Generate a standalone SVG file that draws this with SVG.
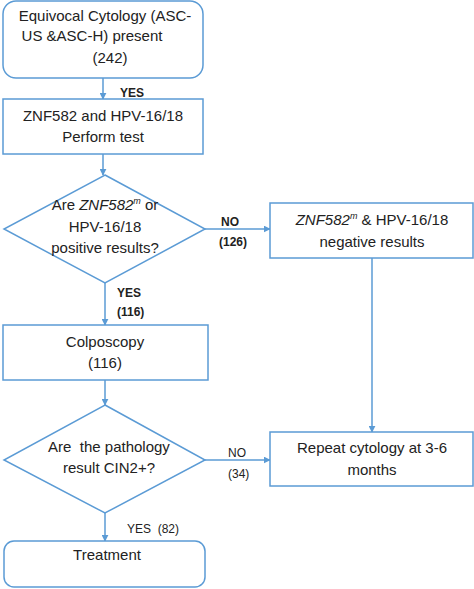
<svg xmlns="http://www.w3.org/2000/svg" width="474" height="589" viewBox="0 0 474 589">
<defs>
<marker id="ah" viewBox="0 0 10 10" refX="9" refY="5" markerWidth="7" markerHeight="7" markerUnits="userSpaceOnUse" orient="auto">
<path d="M0,0 L10,5 L0,10 z" fill="#5B9BD5"/>
</marker>
<style>
.box{fill:#fff;stroke:#5B9BD5;stroke-width:1.5}
.t{font-family:"Liberation Sans",Arial,sans-serif;font-size:15px;fill:#222;text-anchor:middle}
.lb{font-family:"Liberation Sans",Arial,sans-serif;font-size:12px;fill:#222;font-weight:bold}
.ln{font-family:"Liberation Sans",Arial,sans-serif;font-size:12px;fill:#222}
.c{fill:none;stroke:#5B9BD5;stroke-width:1.5;marker-end:url(#ah)}
</style>
</defs>
<rect width="474" height="589" fill="#fff"/>
<g id="connectors">
<line class="c" x1="103" y1="78" x2="103" y2="99"/>
<line class="c" x1="103" y1="154" x2="103" y2="175"/>
<line class="c" x1="205" y1="229" x2="270" y2="229"/>
<line class="c" x1="105" y1="283" x2="105" y2="325"/>
<line class="c" x1="372" y1="258" x2="372" y2="432"/>
<line class="c" x1="105" y1="380" x2="105" y2="405"/>
<line class="c" x1="205" y1="460" x2="270" y2="460"/>
<line class="c" x1="105" y1="513" x2="105" y2="541"/>
<text class="lb" x="120" y="97">YES</text>
<text class="lb" x="221" y="226">NO</text>
<text class="lb" x="219" y="246">(126)</text>
<text class="lb" x="117" y="297">YES</text>
<text class="lb" x="117" y="316">(116)</text>
<text class="ln" x="228" y="457">NO</text>
<text class="ln" x="228" y="478">(34)</text>
<text class="ln" x="127" y="533" xml:space="preserve">YES  (82)</text>
</g>
<g id="n1">
<rect class="box" x="3" y="1" width="200" height="77" rx="13"/>
<text class="t" x="105" y="21">Equivocal Cytology (ASC-</text>
<text class="t" x="92" y="41">US &amp;ASC-H) present</text>
<text class="t" x="110" y="63">(242)</text>
</g>
<g id="n2">
<rect class="box" x="3" y="99" width="200" height="55"/>
<text class="t" x="103" y="121">ZNF582 and HPV-16/18</text>
<text class="t" x="103" y="142">Perform test</text>
</g>
<g id="d1">
<polygon class="box" points="105,175 205,229 105,283 4,229"/>
<text class="t" x="105" y="210">Are <tspan font-style="italic">ZNF582</tspan><tspan font-style="italic" font-size="9" dy="-6">m</tspan><tspan dy="6"> or</tspan></text>
<text class="t" x="105" y="232">HPV-16/18</text>
<text class="t" x="105" y="253">positive results?</text>
</g>
<g id="n3">
<rect class="box" x="270" y="203" width="203" height="55"/>
<text class="t" x="372" y="225"><tspan font-style="italic">ZNF582</tspan><tspan font-style="italic" font-size="9" dy="-6">m</tspan><tspan dy="6"> &amp; HPV-16/18</tspan></text>
<text class="t" x="372" y="247">negative results</text>
</g>
<g id="n4">
<rect class="box" x="3" y="325" width="205" height="55"/>
<text class="t" x="105" y="347">Colposcopy</text>
<text class="t" x="105" y="368">(116)</text>
</g>
<g id="d2">
<polygon class="box" points="105,405 205,460 105,513 4,460"/>
<text class="t" x="109" y="452" xml:space="preserve">Are  the pathology</text>
<text class="t" x="109" y="473">result CIN2+?</text>
</g>
<g id="n5">
<rect class="box" x="270" y="432" width="203" height="54"/>
<text class="t" x="372" y="453">Repeat cytology at 3-6</text>
<text class="t" x="372" y="475">months</text>
</g>
<g id="n6">
<rect class="box" x="4" y="541" width="201" height="46" rx="10"/>
<text class="t" x="107" y="560">Treatment</text>
</g>
</svg>
